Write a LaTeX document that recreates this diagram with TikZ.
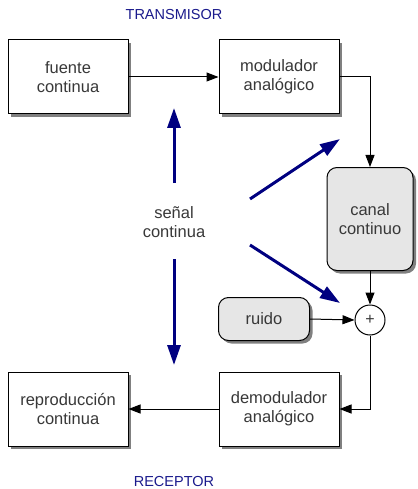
\documentclass[tikz,border=0pt]{standalone}
\usepackage{fontspec}
\setmainfont{Liberation Sans}
\usetikzlibrary{arrows.meta,shadows}
\definecolor{labelblue}{HTML}{1A1A8C}
\definecolor{arrowblue}{HTML}{000080}
\definecolor{textgray}{HTML}{383838}
\definecolor{boxgray}{HTML}{E6E6E6}
\tikzset{
  block/.style={draw,line width=1pt,fill=white,minimum width=120pt,minimum height=74pt,
    align=center,text=textgray,font=\fontsize{16.5}{19}\selectfont,
    drop shadow={shadow xshift=3pt,shadow yshift=-3pt,fill=black!50,opacity=1}},
  soft/.style={block,rounded corners=10pt,fill=boxgray},
  sumnode/.style={draw,line width=1pt,circle,fill=white,minimum size=30pt,inner sep=0pt,
    font=\fontsize{16}{16}\selectfont,text=textgray},
  flow/.style={line width=1pt,-{Triangle[length=12pt,width=9pt]}},
  hint/.style={arrowblue,line width=3pt,-{Triangle[length=20pt,width=13pt]}},
  tag/.style={labelblue,font=\fontsize{14.5}{17}\selectfont}
}
\begin{document}
\begin{tikzpicture}[x=1pt,y=1pt]
  \useasboundingbox (0,0) rectangle (417,-489);
  % labels
  \node[tag] (tx) at (174,-15) {TRANSMISOR};
  \node[tag] (rx) at (174,-482) {RECEPTOR};

  % blocks
  \node[block] (fuente) at (68,-77) {fuente\\continua};
  \node[block] (modulador) at (279,-77) {modulador\\analógico};
  \node[soft,minimum width=86pt,minimum height=103pt] (canal) at (370,-219) {canal\\continuo};
  \node[soft,minimum width=91pt,minimum height=43pt] (ruido) at (264,-319) {ruido};
  \node[sumnode] (suma) at (370,-320) {+};
  \node[block] (demodulador) at (279,-409) {demodulador\\analógico};
  \node[block] (reproduccion) at (68,-409) {reproducción\\continua};

  \draw[flow] (fuente.east) -- (modulador.west);
  \draw[flow] (modulador.east) -| (canal.north);
  \draw[flow] (canal.south) -- (suma.north);
  \draw[flow] (ruido.east) -- (suma.west);
  \draw[flow] (suma.south) |- (demodulador.east);
  \draw[flow] (demodulador.west) -- (reproduccion.east);

  % signal hints
  \node[text=textgray,align=center,font=\fontsize{16.5}{19}\selectfont] (senal) at (174,-222) {señal\\continua};
  \coordinate (upA) at (174,-183);
  \coordinate (upB) at (174,-108);
  \coordinate (dnA) at (174,-259);
  \coordinate (dnB) at (174,-365);
  \coordinate (drA) at (250,-199);
  \coordinate (drB) at (340,-139);
  \coordinate (dsA) at (250,-245);
  \coordinate (dsB) at (340,-303);
  \draw[hint] (upA) -- (upB);
  \draw[hint] (dnA) -- (dnB);
  \draw[hint] (drA) -- (drB);
  \draw[hint] (dsA) -- (dsB);
\end{tikzpicture}
\end{document}
